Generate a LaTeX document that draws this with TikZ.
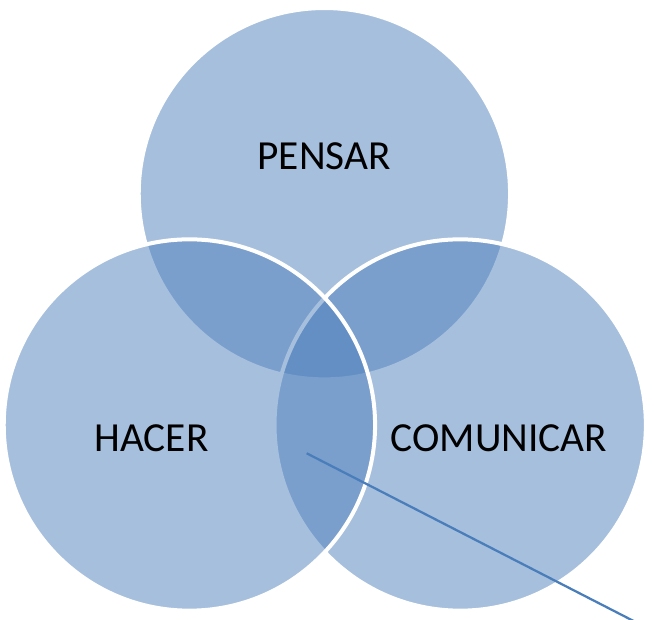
\documentclass[tikz,border=0pt]{standalone}
\usepackage{fontspec}
\setmainfont{Carlito}
\definecolor{accent}{RGB}{79,129,189}
\definecolor{linecol}{RGB}{74,126,187}
\tikzset{
  venn/.style={circle, minimum size=278.5pt, inner sep=0pt, outer sep=0pt,
    fill=accent, fill opacity=0.5, draw=white, draw opacity=1, line width=3pt},
  lbl/.style={inner sep=0pt, text=black, font=\fontsize{31}{36}\selectfont},
  callout/.style={draw=linecol, line width=1.7pt}
}
\begin{document}
\begin{tikzpicture}[x=0.75pt,y=-0.75pt]
\clip (0,0) rectangle (654,620);
\fill[white] (0,0) rectangle (654,620);
\node[venn] (P) at (324.4,193.7) {};
\node[venn] (C) at (460.2,425) {};
\node[venn] (H) at (189.4,425) {};
\node[lbl] (tP) at (324.2,156.7) {PENSAR};
\node[lbl] (tH) at (151.5,438.3) {HACER};
\node[lbl] (tC) at (499,438.3) {COMUNICAR};
\coordinate (ls) at (306.7,453.3);
\coordinate (le) at (640,624.3);
\draw[callout] (ls) -- (le);
\end{tikzpicture}
\end{document}
